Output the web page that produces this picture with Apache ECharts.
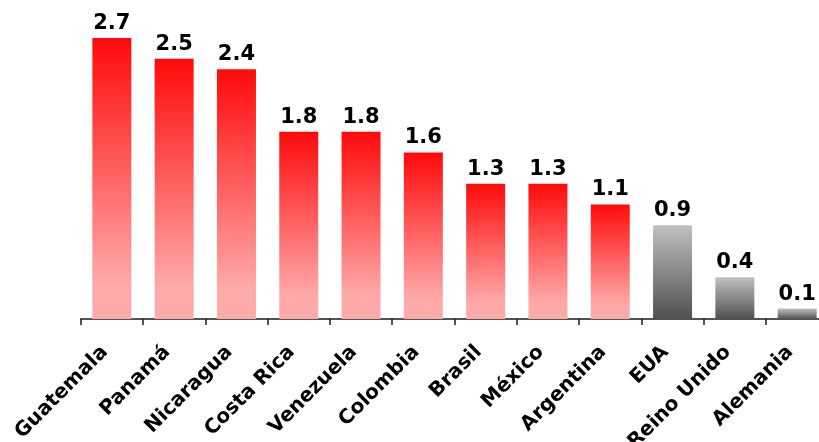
<!DOCTYPE html>
<html>
<head>
<meta charset="utf-8">
<script src="https://cdn.jsdelivr.net/npm/echarts@6/dist/echarts.min.js"></script>
<style>
  html, body { margin: 0; padding: 0; background: #fff; }
  #chart { width: 819px; height: 442px; }
</style>
</head>
<body>
<div id="chart"></div>
<script>
// Countries and their values
const categories = ['Guatemala', 'Panamá', 'Nicaragua', 'Costa Rica', 'Venezuela', 'Colombia', 'Brasil', 'México', 'Argentina', 'EUA', 'Reino Unido', 'Alemania'];
const values = [2.7, 2.5, 2.4, 1.8, 1.8, 1.6, 1.3, 1.3, 1.1, 0.9, 0.4, 0.1];
// Countries drawn with the grey palette
const greyCountries = ['EUA', 'Reino Unido', 'Alemania'];

const redFill = new echarts.graphic.LinearGradient(0, 0, 0, 1, [
  { offset: 0, color: '#ff0a0a' },
  { offset: 0.88, color: '#ffaaaa' },
  { offset: 1, color: '#ffaaaa' }
]);
const greyFill = new echarts.graphic.LinearGradient(0, 0, 0, 1, [
  { offset: 0, color: '#c0c0c0' },
  { offset: 1, color: '#505050' }
]);

const barData = categories.map((c, i) => ({
  value: values[i],
  itemStyle: { color: greyCountries.includes(c) ? greyFill : redFill }
}));

const chart = echarts.init(document.getElementById('chart'), null, { renderer: 'canvas' });
chart.setOption({
  animation: false,
  grid: {
    left: 80.7, top: 6.8, width: 747.6, height: 312.2,
    containLabel: false,
    outerBoundsMode: 'none'
  },
  xAxis: {
    type: 'category',
    data: categories,
    boundaryGap: true,
    axisLine: { lineStyle: { color: '#1a1a1a', width: 1.5 } },
    axisTick: { show: true, length: 6, inside: false, lineStyle: { color: '#1a1a1a', width: 1.5 } },
    axisLabel: {
      rotate: 45,
      interval: 0,
      margin: 23,
      padding: [0, 10, 0, 0],
      fontFamily: 'DejaVu Sans',
      fontWeight: 'bold',
      fontSize: 20,
      color: '#000'
    }
  },
  yAxis: {
    type: 'value',
    min: 0,
    max: 3,
    show: false
  },
  series: [{
    type: 'bar',
    data: barData,
    barWidth: 39,
    label: {
      show: true,
      position: 'top',
      distance: 4,
      fontFamily: 'DejaVu Sans',
      fontWeight: 'bold',
      fontSize: 21,
      color: '#000',
      formatter: p => p.value.toFixed(1)
    }
  }]
});
</script>
</body>
</html>
